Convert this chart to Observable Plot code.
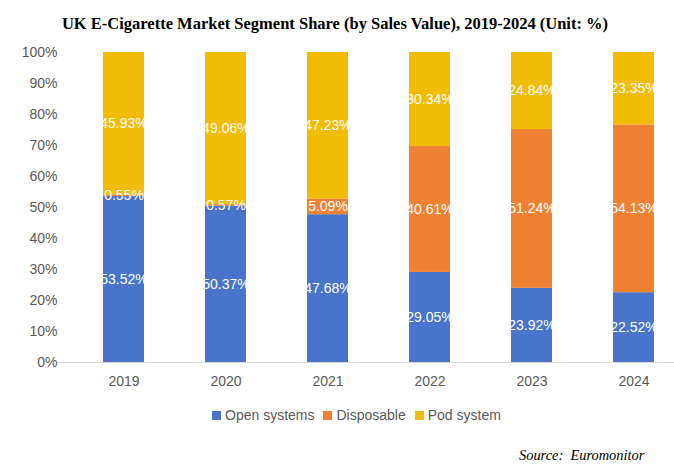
<!DOCTYPE html>
<html><head><meta charset="utf-8">
<script src="https://cdn.jsdelivr.net/npm/d3@7"></script>
<script src="https://cdn.jsdelivr.net/npm/@observablehq/plot@0.6"></script>
<style>
body{margin:0;background:#fff;width:674px;height:468px;overflow:hidden;position:relative;font-family:"Liberation Sans",Arial,sans-serif;}
#title{position:absolute;left:0;top:14px;width:670px;text-align:center;font-family:"Liberation Serif","Times New Roman",serif;font-weight:bold;font-size:16.5px;color:#000;line-height:20px;white-space:nowrap;}
#chart{position:absolute;left:0;top:42px;}
#legend{position:absolute;left:212px;top:406px;display:flex;align-items:center;font-size:14px;color:#595959;line-height:18px;white-space:nowrap;}
#legend .item{display:flex;align-items:center;margin-right:9px;}
#legend .sw{width:9px;height:9px;margin-right:4px;}
#source{position:absolute;left:519px;top:446px;font-family:"Liberation Serif","Times New Roman",serif;font-style:italic;font-size:14.4px;color:#000;line-height:18px;white-space:nowrap;}
</style></head><body>
<div id="title">UK E-Cigarette Market Segment Share (by Sales Value), 2019-2024 (Unit: %)</div>
<div id="chart"></div>
<div id="legend"></div>
<div id="source">Source:&nbsp; Euromonitor</div>
<script>
const years = ["2019", "2020", "2021", "2022", "2023", "2024"];
const segments = ["Open systems", "Disposable", "Pod system"];
const openSystems = [53.52, 50.37, 47.68, 29.05, 23.92, 22.52];
const disposable = [0.55, 0.57, 5.09, 40.61, 51.24, 54.13];
const podSystem = [45.93, 49.06, 47.23, 30.34, 24.84, 23.35];
const segmentColors = ["#4874cb", "#ee8232", "#f2bb04"];
const yTicks = [0, 10, 20, 30, 40, 50, 60, 70, 80, 90, 100];

const seriesValues = [openSystems, disposable, podSystem];
const data = [];
years.forEach((year, i) => {
  segments.forEach((seg, j) => {
    data.push({year, segment: seg, value: seriesValues[j][i]});
  });
});

const chart = Plot.plot({
  width: 674,
  height: 360,
  marginTop: 10,
  marginBottom: 40,
  marginLeft: 60,
  marginRight: 0,
  style: {fontFamily: "'Liberation Sans', Arial, sans-serif", fontSize: "14px", color: "#595959", background: "#fff"},
  x: {domain: years, range: [72, 684], paddingInner: 0.6, paddingOuter: 0.3, label: null},
  y: {domain: [0, 100], label: null},
  color: {domain: segments, range: segmentColors},
  marks: [
    Plot.barY(data, {x: "year", y: "value", fill: "segment", order: segments}),
    Plot.ruleY([0], {stroke: "#d9d9d9", strokeWidth: 1.2, insetLeft: -4}),
    Plot.text(data, Plot.stackY({x: "year", y: "value", z: "segment", order: segments,
      text: d => d.value.toFixed(2) + "%", fill: "white", fontSize: 14})),
    Plot.axisY({ticks: yTicks, tickFormat: d => d + "%", tickSize: 0, tickPadding: 3, label: null}),
    Plot.axisX({tickSize: 0, tickPadding: 14, label: null})
  ]
});
document.getElementById("chart").appendChild(chart);

const legend = document.getElementById("legend");
segments.forEach((seg, j) => {
  const item = document.createElement("span");
  item.className = "item";
  const sw = document.createElement("span");
  sw.className = "sw";
  sw.style.background = segmentColors[j];
  item.appendChild(sw);
  item.appendChild(document.createTextNode(seg));
  legend.appendChild(item);
});
</script>
</body></html>
